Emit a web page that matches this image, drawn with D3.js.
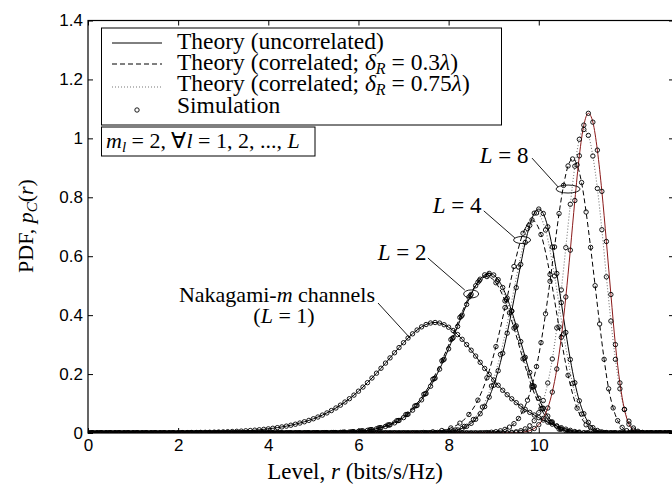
<!DOCTYPE html>
<html>
<head>
<meta charset="utf-8">
<script src="https://cdn.jsdelivr.net/npm/d3@7"></script>
<style>
body { margin: 0; background: #fff; }
svg { display: block; }
.axis text { font-family: "Liberation Sans", Arial, sans-serif; font-size: 17px; fill: #000; }
.tex { font-family: "Liberation Serif", "Times New Roman", serif; fill: #000; }
</style>
</head>
<body>
<svg id="chart" width="672" height="486"></svg>
<script>
// tick values
var xTicks = [0, 2, 4, 6, 8, 10];
var yTicks = [0, 0.2, 0.4, 0.6, 0.8, 1, 1.2, 1.4];

// PDF values; each curve has its own first level and step
var l1Start = 2.1, l1Step = 0.1;
var l1Uncorr = [0.001, 0.0013, 0.0015, 0.0017, 0.002, 0.0022, 0.0025, 0.0029, 0.0033, 0.0038,
    0.0044, 0.005, 0.0057, 0.0064, 0.0074, 0.0084, 0.0096, 0.0109, 0.0124, 0.0141,
    0.016, 0.0182, 0.0206, 0.0233, 0.0264, 0.0298, 0.0338, 0.0381, 0.0428, 0.0483,
    0.0542, 0.0608, 0.0681, 0.0762, 0.0849, 0.0945, 0.1051, 0.1164, 0.1286, 0.1419,
    0.1559, 0.1709, 0.1866, 0.203, 0.2198, 0.2372, 0.2549, 0.2723, 0.2899, 0.3064,
    0.3223, 0.3366, 0.3495, 0.3602, 0.3682, 0.3733, 0.375, 0.3731, 0.3675, 0.359,
    0.348, 0.334, 0.318, 0.3, 0.281, 0.261, 0.24, 0.219, 0.199, 0.18,
    0.162, 0.145, 0.13, 0.116, 0.103, 0.091, 0.08, 0.07, 0.061, 0.052,
    0.044, 0.037, 0.03, 0.024, 0.018, 0.013, 0.009, 0.005, 0.003, 0.001];

var l2UncorrStart = 4.9, l2UncorrStep = 0.1;
var l2Uncorr = [0.0004, 0.0005, 0.0006, 0.0008, 0.001, 0.0013, 0.0016, 0.0021, 0.0027, 0.0034,
    0.0044, 0.0056, 0.0071, 0.009, 0.0113, 0.0142, 0.0179, 0.0224, 0.0277, 0.0344,
    0.0426, 0.0522, 0.0638, 0.0775, 0.0936, 0.1125, 0.1341, 0.1587, 0.1862, 0.2167,
    0.2503, 0.2856, 0.3236, 0.3617, 0.4002, 0.4364, 0.4706, 0.4997, 0.5221, 0.5367,
    0.5417, 0.5363, 0.5203, 0.4937, 0.4576, 0.4134, 0.3634, 0.3103, 0.2568, 0.2055,
    0.1587, 0.118, 0.0841, 0.0574, 0.0374, 0.0231, 0.0135, 0.0075, 0.0039, 0.0019, 0.0009];
var l2Corr03Start = 4.85, l2Corr03Step = 0.2;
var l2Corr03 = [0.0004, 0.0006, 0.001, 0.0016, 0.0026, 0.0043, 0.007, 0.0111, 0.0175, 0.0271,
    0.0417, 0.0625, 0.0917, 0.1314, 0.1825, 0.2453, 0.3171, 0.3922, 0.4612, 0.5117,
    0.5309, 0.5099, 0.4484, 0.3561, 0.2517, 0.1555, 0.0824, 0.0367, 0.0132, 0.0038, 0.0009];
var l2Corr075Start = 4.88, l2Corr075Step = 0.2;
var l2Corr075 = [0.0004, 0.0006, 0.001, 0.0016, 0.0027, 0.0044, 0.007, 0.0112, 0.0177, 0.0274,
    0.0422, 0.0632, 0.0927, 0.1328, 0.1843, 0.2478, 0.3204, 0.3962, 0.4659, 0.5169,
    0.5363, 0.5151, 0.453, 0.3598, 0.2542, 0.1571, 0.0833, 0.037, 0.0134, 0.0039, 0.0009];

var l4UncorrStart = 7.4, l4UncorrStep = 0.1;
var l4Uncorr = [0.0003, 0.0005, 0.0008, 0.0013, 0.002, 0.0031, 0.0047, 0.0071, 0.0105, 0.0156,
    0.0226, 0.0327, 0.0466, 0.0652, 0.0896, 0.1217, 0.162, 0.2113, 0.2707, 0.3388,
    0.4141, 0.4934, 0.5724, 0.6466, 0.7047, 0.7462, 0.76, 0.745, 0.6997, 0.6313,
    0.5413, 0.4425, 0.3413, 0.2494, 0.1705, 0.1094, 0.0652, 0.036, 0.0183, 0.0085,
    0.0036, 0.0014, 0.0005];
var l4Corr03Start = 7.05, l4Corr03Step = 0.2;
var l4Corr03 = [0.0004, 0.0008, 0.0018, 0.004, 0.0084, 0.0171, 0.0335, 0.0628, 0.1116, 0.1873,
    0.2935, 0.4256, 0.5651, 0.6779, 0.723, 0.6736, 0.538, 0.3596, 0.1959, 0.0844, 0.0278, 0.0067, 0.0011];
var l4Corr075Start = 7.35, l4Corr075Step = 0.2;
var l4Corr075 = [0.0003, 0.0008, 0.0019, 0.0046, 0.0103, 0.0223, 0.0458, 0.0882, 0.1595, 0.2665,
    0.4077, 0.5637, 0.6939, 0.7469, 0.689, 0.533, 0.3361, 0.1679, 0.0642, 0.018, 0.0036, 0.0005];

var l8Step = 0.1;
var l8UncorrStart = 9.5;
var l8Uncorr = [0.001, 0.002, 0.0041, 0.008, 0.0152, 0.028, 0.0497, 0.0847, 0.1389, 0.2173,
    0.3246, 0.4617, 0.6206, 0.789, 0.9408, 1.045, 1.085, 1.055, 0.96, 0.82,
    0.65, 0.47, 0.3, 0.17, 0.08, 0.03, 0.01, 0.003, 0.001];
var l8Corr03Start = 8.75;
var l8Corr03 = [0.0008, 0.0015, 0.0026, 0.0044, 0.0074, 0.0123, 0.02, 0.0317, 0.0493, 0.075,
    0.1113, 0.1605, 0.2255, 0.3068, 0.4045, 0.5151, 0.6315, 0.7447, 0.8404, 0.9064,
    0.93, 0.91, 0.85, 0.75, 0.63, 0.5, 0.37, 0.25, 0.15, 0.085, 0.042, 0.019, 0.008, 0.003];
var l8Corr075Start = 9.4;
var l8Corr075 = [0.0022, 0.0042, 0.0078, 0.014, 0.0245, 0.0418, 0.0691, 0.1101, 0.1697, 0.2512,
    0.3569, 0.4856, 0.6292, 0.7763, 0.9055, 0.9967, 1.03, 1.01, 0.94, 0.83,
    0.69, 0.53, 0.38, 0.25, 0.15, 0.08, 0.04, 0.017, 0.006, 0.002];

var xMax = 13;

var svg = d3.select("#chart");

var x = d3.scaleLinear().domain([0, xMax]).range([88, 674]);
var y = d3.scaleLinear().domain([0, 1.4]).range([433, 20.5]);

// clip to plot box
svg.append("clipPath").attr("id", "clip")
    .append("rect")
    .attr("x", x(0)).attr("y", y(1.4))
    .attr("width", x(xMax) - x(0)).attr("height", y(0) - y(1.4));

function toPoints(start, step, vals) {
    var pts = [[0, 0]];
    vals.forEach(function(v, i) { pts.push([start + i * step, v]); });
    pts.push([xMax, 0]);
    return pts;
}

// simulation markers: one per sample, zero outside the curve's support
function simPoints(start, step, vals) {
    var pts = [];
    var first = Math.ceil(-start / step);
    var last = Math.floor((xMax - start) / step);
    for (var i = first; i <= last; i++) {
        var v = (i >= 0 && i < vals.length) ? vals[i] : 0;
        pts.push([start + i * step, v]);
    }
    return pts;
}

var curves = [
    {s: l2Corr075Start, d: l2Corr075Step, v: l2Corr075, style: "dot"},
    {s: l4Corr075Start, d: l4Corr075Step, v: l4Corr075, style: "dot"},
    {s: l8Corr075Start, d: l8Step, v: l8Corr075, style: "dot"},
    {s: l2Corr03Start, d: l2Corr03Step, v: l2Corr03, style: "dash"},
    {s: l4Corr03Start, d: l4Corr03Step, v: l4Corr03, style: "dash"},
    {s: l8Corr03Start, d: l8Step, v: l8Corr03, style: "dash"},
    {s: l1Start, d: l1Step, v: l1Uncorr, style: "solid"},
    {s: l2UncorrStart, d: l2UncorrStep, v: l2Uncorr, style: "solid"},
    {s: l4UncorrStart, d: l4UncorrStep, v: l4Uncorr, style: "solid"},
    {s: l8UncorrStart, d: l8Step, v: l8Uncorr, style: "red"}
];

var line = d3.line()
    .x(function(d) { return x(d[0]); })
    .y(function(d) { return y(d[1]); })
    .curve(d3.curveMonotoneX);

var plot = svg.append("g").attr("clip-path", "url(#clip)");

plot.selectAll(".curve")
    .data(curves)
    .enter()
    .append("path")
    .attr("class", "curve")
    .attr("fill", "none")
    .attr("d", function(c) { return line(toPoints(c.s, c.d, c.v)); })
    .attr("stroke", function(c) {
        if (c.style === "dot") return "#777";
        if (c.style === "red") return "#8b1a1a";
        return "#000";
    })
    .attr("stroke-width", function(c) { return c.style === "dot" ? 1.1 : 1; })
    .attr("stroke-dasharray", function(c) {
        if (c.style === "dot") return "1,2";
        if (c.style === "dash") return "5,3";
        return null;
    });

curves.forEach(function(c) {
    plot.append("g").selectAll("circle")
        .data(simPoints(c.s, c.d, c.v))
        .enter()
        .append("circle")
        .attr("cx", function(d) { return x(d[0]); })
        .attr("cy", function(d) { return y(d[1]); })
        .attr("r", 2.2)
        .attr("fill", "none")
        .attr("stroke", "#000")
        .attr("stroke-width", 0.9);
});

// axes, ticks pointing inward
var gx = svg.append("g").attr("class", "axis")
    .attr("transform", "translate(0," + y(0) + ")")
    .call(d3.axisBottom(x).tickValues(xTicks).tickSize(-5).tickPadding(6).tickFormat(d3.format("d")));
var gy = svg.append("g").attr("class", "axis")
    .attr("transform", "translate(" + x(0) + ",0)")
    .call(d3.axisLeft(y).tickValues(yTicks).tickSize(-5).tickPadding(5).tickFormat(function(d) { return d3.format("")(+d.toFixed(1)); }));
var gt = svg.append("g").attr("class", "axis")
    .attr("transform", "translate(0," + y(1.4) + ")")
    .call(d3.axisTop(x).tickValues(xTicks).tickSize(-5).tickFormat(""));
var gr = svg.append("g").attr("class", "axis")
    .attr("transform", "translate(" + x(xMax) + ",0)")
    .call(d3.axisRight(y).tickValues(yTicks).tickSize(-5).tickFormat(""));
[gx, gy, gt, gr].forEach(function(g) {
    g.select(".domain").remove();
    g.selectAll(".tick line").attr("stroke", "#000");
});

svg.append("rect")
    .attr("x", x(0)).attr("y", y(1.4))
    .attr("width", x(xMax) - x(0)).attr("height", y(0) - y(1.4))
    .attr("fill", "none").attr("stroke", "#000").attr("stroke-width", 1.2);

// axis titles
var xl = svg.append("text").attr("class", "tex")
    .attr("x", 355).attr("y", 479).attr("text-anchor", "middle").style("font-size", "23px");
xl.append("tspan").text("Level, ");
xl.append("tspan").style("font-style", "italic").text("r");
xl.append("tspan").text(" (bits/s/Hz)");

var yl = svg.append("text").attr("class", "tex")
    .attr("transform", "translate(33,226) rotate(-90)")
    .attr("text-anchor", "middle").style("font-size", "22px");
yl.append("tspan").text("PDF, ");
yl.append("tspan").style("font-style", "italic").text("p");
yl.append("tspan").style("font-style", "italic").style("font-size", "15px").attr("dy", 4).text("C");
yl.append("tspan").attr("dy", -4).text("(");
yl.append("tspan").style("font-style", "italic").text("r");
yl.append("tspan").text(")");

// legend
var lg = svg.append("g");
lg.append("rect").attr("x", 101.5).attr("y", 28).attr("width", 400).attr("height", 97)
    .attr("fill", "#fff").attr("stroke", "#000").attr("stroke-width", 1);
var rows = [43, 64, 87, 110];
lg.append("line").attr("x1", 112).attr("x2", 162).attr("y1", rows[0]).attr("y2", rows[0])
    .attr("stroke", "#000");
lg.append("line").attr("x1", 112).attr("x2", 162).attr("y1", rows[1]).attr("y2", rows[1])
    .attr("stroke", "#000").attr("stroke-dasharray", "5,3");
lg.append("line").attr("x1", 112).attr("x2", 162).attr("y1", rows[2]).attr("y2", rows[2])
    .attr("stroke", "#777").attr("stroke-width", 1.1).attr("stroke-dasharray", "1,2");
lg.append("circle").attr("cx", 137).attr("cy", rows[3]).attr("r", 2.2)
    .attr("fill", "none").attr("stroke", "#000").attr("stroke-width", 0.9);

function legendText(yy) {
    return lg.append("text").attr("class", "tex").attr("x", 177).attr("y", yy).style("font-size", "23.5px");
}
legendText(49).text("Theory (uncorrelated)");
var t2 = legendText(69.5);
t2.append("tspan").text("Theory (correlated; ");
t2.append("tspan").style("font-style", "italic").text("δ");
t2.append("tspan").style("font-style", "italic").style("font-size", "16px").attr("dy", 4).text("R");
t2.append("tspan").attr("dy", -4).text(" = 0.3");
t2.append("tspan").style("font-style", "italic").text("λ");
t2.append("tspan").text(")");
var t3 = legendText(90.5);
t3.append("tspan").text("Theory (correlated; ");
t3.append("tspan").style("font-style", "italic").text("δ");
t3.append("tspan").style("font-style", "italic").style("font-size", "16px").attr("dy", 4).text("R");
t3.append("tspan").attr("dy", -4).text(" = 0.75");
t3.append("tspan").style("font-style", "italic").text("λ");
t3.append("tspan").text(")");
legendText(113).text("Simulation");

// parameter box
lg.append("rect").attr("x", 101.5).attr("y", 127).attr("width", 213.5).attr("height", 29)
    .attr("fill", "#fff").attr("stroke", "#000").attr("stroke-width", 1);
var pm = lg.append("text").attr("class", "tex").attr("x", 106).attr("y", 148).style("font-size", "22px");
pm.append("tspan").style("font-style", "italic").text("m");
pm.append("tspan").style("font-style", "italic").style("font-size", "15px").attr("dy", 4).text("l");
pm.append("tspan").attr("dy", -4).text(" = 2, ∀");
pm.append("tspan").style("font-style", "italic").text("l");
pm.append("tspan").text(" = 1, 2, ..., ");
pm.append("tspan").style("font-style", "italic").text("L");

// annotations (positions in data units)
var notes = [
    {label: "8", tx: 9.23, ty: 0.944, p0: [9.85, 0.933], p1: [10.43, 0.835], ex: 10.65, ey: 0.828, rx: 12, ry: 4},
    {label: "4", tx: 8.19, ty: 0.774, p0: [8.78, 0.754], p1: [9.47, 0.662], ex: 9.63, ey: 0.655, rx: 8.5, ry: 3.5},
    {label: "2", tx: 6.97, ty: 0.614, p0: [7.54, 0.594], p1: [8.36, 0.485], ex: 8.5, ey: 0.472, rx: 7.5, ry: 4}
];
notes.forEach(function(n) {
    var t = svg.append("text").attr("class", "tex")
        .attr("x", x(n.tx)).attr("y", y(n.ty) + 8)
        .attr("text-anchor", "middle").style("font-size", "23px");
    t.append("tspan").style("font-style", "italic").text("L");
    t.append("tspan").text(" = " + n.label);
    svg.append("line")
        .attr("x1", x(n.p0[0])).attr("y1", y(n.p0[1]))
        .attr("x2", x(n.p1[0])).attr("y2", y(n.p1[1]))
        .attr("stroke", "#000").attr("stroke-width", 0.9);
    svg.append("ellipse")
        .attr("cx", x(n.ex)).attr("cy", y(n.ey))
        .attr("rx", n.rx).attr("ry", n.ry)
        .attr("fill", "none").attr("stroke", "#000").attr("stroke-width", 0.9);
});

var nk = svg.append("text").attr("class", "tex")
    .attr("x", 277).attr("y", 302).attr("text-anchor", "middle").style("font-size", "22px");
nk.append("tspan").text("Nakagami-");
nk.append("tspan").style("font-style", "italic").text("m");
nk.append("tspan").text(" channels");
var nk2 = svg.append("text").attr("class", "tex")
    .attr("x", 284).attr("y", 323).attr("text-anchor", "middle").style("font-size", "22px");
nk2.append("tspan").text("(");
nk2.append("tspan").style("font-style", "italic").text("L");
nk2.append("tspan").text(" = 1)");
svg.append("line")
    .attr("x1", 378).attr("y1", 303).attr("x2", 410).attr("y2", 338)
    .attr("stroke", "#000").attr("stroke-width", 0.9);
</script>
</body>
</html>
